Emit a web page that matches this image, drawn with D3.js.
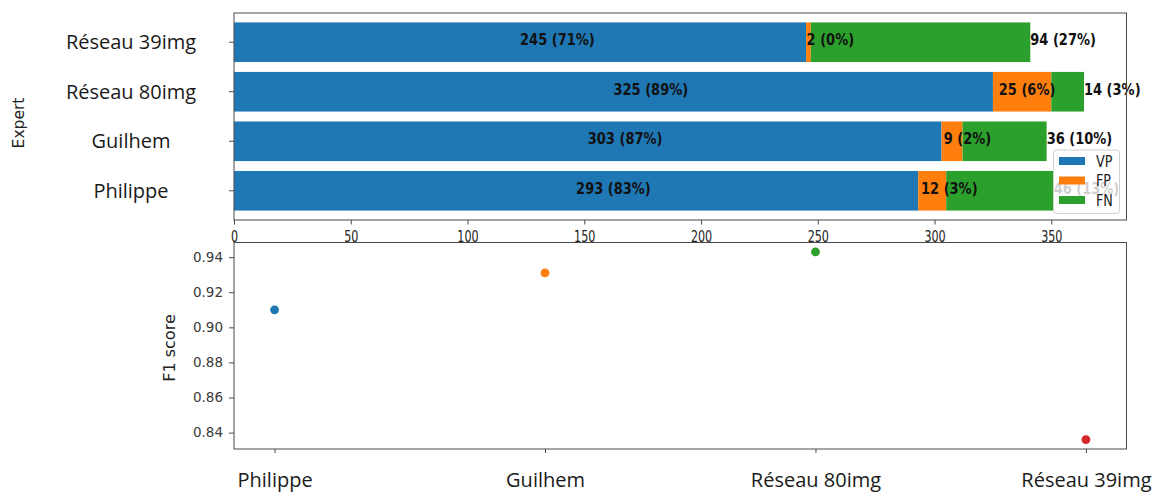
<!DOCTYPE html>
<html>
<head>
<meta charset="utf-8">
<script src="https://cdn.jsdelivr.net/npm/d3@7"></script>
<style>
  html, body { margin: 0; padding: 0; background: #fff; }
  svg { display: block; }
</style>
</head>
<body>
<svg id="chart" width="1159" height="492"></svg>
<script>
// ---------- data ----------
const categories = ["Philippe", "Guilhem", "Réseau 80img", "Réseau 39img"];
const seriesNames = ["VP", "FP", "FN"];
const vpValues = [293, 303, 325, 245];
const fpValues = [12, 9, 25, 2];
const fnValues = [46, 36, 14, 94];
const f1Values = [0.910, 0.931, 0.943, 0.836];
const barTickValues = [0, 50, 100, 150, 200, 250, 300, 350];
const f1TickValues = [0.84, 0.86, 0.88, 0.90, 0.92, 0.94];

// ---------- styles ----------
const seriesColors = ["#1f77b4", "#ff7f0e", "#2ca02c"];
const pointColors = ["#1f77b4", "#ff7f0e", "#2ca02c", "#d62728"];
const mplFont = "'DejaVu Sans', sans-serif";
const labelFont = "'Open Sans', sans-serif";
const spineColor = "#4a4a4a";

const svg = d3.select("#chart");
svg.append("rect").attr("width", 1159).attr("height", 492).attr("fill", "#fff");

// ---------- top: stacked horizontal bars ----------
const topBox = { left: 234, right: 1126.5, top: 13, bottom: 220 };
const rows = categories.map((c, i) => ({
  name: c, VP: vpValues[i], FP: fpValues[i], FN: fnValues[i],
  total: vpValues[i] + fpValues[i] + fnValues[i]
}));
const maxTotal = d3.max(rows, d => d.total);

const xBar = d3.scaleLinear().domain([0, maxTotal * 1.05]).range([topBox.left, topBox.right]);
const yBar = d3.scaleBand()
  .domain(categories.slice().reverse())
  .range([topBox.top, topBox.bottom])
  .paddingInner(0.2).paddingOuter(0.19);

const stack = d3.stack().keys(seriesNames)(rows);
const gBars = svg.append("g");
stack.forEach((layer, li) => {
  gBars.selectAll(null).data(layer).enter().append("rect")
    .attr("x", d => xBar(d[0]))
    .attr("y", d => yBar(d.data.name))
    .attr("width", d => xBar(d[1]) - xBar(d[0]))
    .attr("height", yBar.bandwidth())
    .attr("fill", seriesColors[li]);
});

// value labels
const pct = (v, t) => Math.floor(v / t * 100);
const gLabels = svg.append("g")
  .attr("font-family", mplFont).attr("font-weight", "bold")
  .attr("font-size", 15.5).attr("fill", "#111");
function addLabel(xv, name, txt) {
  const yc = yBar(name) + yBar.bandwidth() / 2 + 3;
  gLabels.append("text")
    .attr("transform", `translate(${xBar(xv)},${yc}) scale(0.84,1)`)
    .text(txt);
}
rows.forEach(r => {
  addLabel(r.VP / 2, r.name, `${r.VP} (${pct(r.VP, r.total)}%)`);
  addLabel(r.VP + r.FP * 0.1, r.name, `${r.FP} (${pct(r.FP, r.total)}%)`);
  addLabel(r.total, r.name, `${r.FN} (${pct(r.FN, r.total)}%)`);
});

// legend (semi-transparent, drawn over the last label as in the reference)
const leg = svg.append("g").attr("transform", "translate(1053.5,150)");
leg.append("rect").attr("width", 66).attr("height", 63.5).attr("rx", 3)
  .attr("fill", "#fff").attr("fill-opacity", 0.8)
  .attr("stroke", "#d0d0d0").attr("stroke-width", 1);
seriesNames.forEach((s, i) => {
  const cy = 11 + i * 19.5;
  leg.append("rect").attr("x", 5.5).attr("y", cy - 4).attr("width", 26).attr("height", 8)
    .attr("fill", seriesColors[i]);
  leg.append("text")
    .attr("transform", `translate(42.5,${cy + 5.5}) scale(0.8,1)`)
    .attr("font-family", mplFont).attr("font-size", 16).attr("fill", "#222")
    .text(s);
});

// axes of the top chart
const xAxisTop = svg.append("g").attr("transform", `translate(0,${topBox.bottom})`)
  .call(d3.axisBottom(xBar).tickValues(barTickValues).tickSize(4.5).tickFormat(d3.format("d")));
xAxisTop.select(".domain").remove();
xAxisTop.selectAll(".tick line").attr("stroke", spineColor);
xAxisTop.selectAll(".tick text")
  .attr("font-family", mplFont).attr("font-size", 15.5).attr("fill", "#222")
  .attr("y", 10.5).attr("dy", "0.71em")
  .attr("transform", "scale(0.72,1)");

const yAxisTop = svg.append("g").attr("transform", `translate(${topBox.left},0)`)
  .call(d3.axisLeft(yBar).tickSize(5));
yAxisTop.select(".domain").remove();
yAxisTop.selectAll(".tick line").attr("stroke", spineColor);
yAxisTop.selectAll(".tick text")
  .attr("font-family", labelFont).attr("font-size", 20).attr("fill", "#1a1a1a")
  .attr("text-anchor", "middle").attr("x", 131 - topBox.left).attr("dy", "0.36em");

svg.append("rect")
  .attr("x", topBox.left).attr("y", topBox.top)
  .attr("width", topBox.right - topBox.left).attr("height", topBox.bottom - topBox.top)
  .attr("fill", "none").attr("stroke", spineColor).attr("stroke-width", 1);

svg.append("text")
  .attr("transform", "translate(19,123) rotate(-90)")
  .attr("font-family", mplFont).attr("font-size", 15.5).attr("fill", "#222")
  .attr("text-anchor", "middle").attr("dominant-baseline", "central")
  .text("Expert");

// ---------- bottom: F1 score scatter ----------
const botBox = { left: 234, right: 1126.5, top: 242.5, bottom: 449 };
const xPt = d3.scalePoint().domain(categories).range([botBox.left, botBox.right]).padding(0.15);
const f1Min = d3.min(f1Values), f1Max = d3.max(f1Values), f1Pad = (f1Max - f1Min) * 0.05;
const yF1 = d3.scaleLinear().domain([f1Min - f1Pad, f1Max + f1Pad]).range([botBox.bottom, botBox.top]);

svg.append("g").selectAll("circle").data(categories).enter().append("circle")
  .attr("cx", d => xPt(d))
  .attr("cy", (d, i) => yF1(f1Values[i]))
  .attr("r", 4.4)
  .attr("fill", (d, i) => pointColors[i]);

const yAxisBot = svg.append("g").attr("transform", `translate(${botBox.left},0)`)
  .call(d3.axisLeft(yF1).tickValues(f1TickValues).tickSize(5).tickPadding(6).tickFormat(d3.format(".2f")));
yAxisBot.select(".domain").remove();
yAxisBot.selectAll(".tick line").attr("stroke", spineColor);
yAxisBot.selectAll(".tick text")
  .attr("font-family", mplFont).attr("font-size", 13.5).attr("fill", "#3a3a3a");

const xAxisBot = svg.append("g").attr("transform", `translate(0,${botBox.bottom})`)
  .call(d3.axisBottom(xPt).tickSize(4));
xAxisBot.select(".domain").remove();
xAxisBot.selectAll(".tick line").attr("stroke", spineColor);
xAxisBot.selectAll(".tick text")
  .attr("font-family", labelFont).attr("font-size", 20).attr("fill", "#1a1a1a")
  .attr("y", 37.7).attr("dy", 0);

svg.append("rect")
  .attr("x", botBox.left).attr("y", botBox.top)
  .attr("width", botBox.right - botBox.left).attr("height", botBox.bottom - botBox.top)
  .attr("fill", "none").attr("stroke", spineColor).attr("stroke-width", 1);

svg.append("text")
  .attr("transform", "translate(169,348) rotate(-90)")
  .attr("font-family", mplFont).attr("font-size", 16).attr("fill", "#222")
  .attr("text-anchor", "middle").attr("dominant-baseline", "central")
  .text("F1 score");
</script>
</body>
</html>
